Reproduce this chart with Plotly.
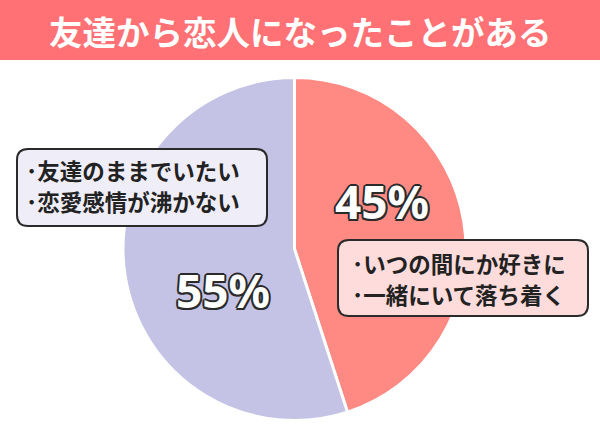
import plotly.graph_objects as go

W, H = 600, 437

title = "友達から恋人になったことがある"
labels = ["ある", "ない"]
values = [45, 55]
colors = ["#FE8A83", "#C4C3E5"]
notes_yes = ["･いつの間にか好きに", "･一緒にいて落ち着く"]
notes_no = ["･友達のままでいたい", "･恋愛感情が沸かない"]


def px(x):
    return x / W


def py(y):
    return 1 - y / H


def rrect(x0, y0, x1, y1, r):
    rx, ry = r / W, r / H
    X0, X1 = px(x0), px(x1)
    Y0, Y1 = py(y0), py(y1)  # Y0 top, Y1 bottom
    return (f"M {X0+rx} {Y0} L {X1-rx} {Y0} Q {X1} {Y0} {X1} {Y0-ry} "
            f"L {X1} {Y1+ry} Q {X1} {Y1} {X1-rx} {Y1} "
            f"L {X0+rx} {Y1} Q {X0} {Y1} {X0} {Y1+ry} "
            f"L {X0} {Y0-ry} Q {X0} {Y0} {X0+rx} {Y0} Z")


cx, cy, R = 294.5, 249, 171.5

fig = go.Figure(go.Pie(
    labels=labels, values=values, sort=False, direction="clockwise",
    rotation=0, marker=dict(colors=colors, line=dict(color="white", width=3)),
    textinfo="none", hoverinfo="label+percent", showlegend=False,
    domain=dict(x=[px(cx - R), px(cx + R)], y=[py(cy + R), py(cy - R)]),
))

shapes = [
    dict(type="rect", xref="paper", yref="paper", x0=0, x1=1, y0=py(60), y1=1,
         fillcolor="#FF7174", line=dict(width=0), layer="below"),
    dict(type="path", xref="paper", yref="paper", path=rrect(17, 149, 267, 226, 11),
         fillcolor="#EEEDF8", line=dict(color="#2A2A2A", width=2)),
    dict(type="path", xref="paper", yref="paper", path=rrect(338, 240, 588, 316, 11),
         fillcolor="#FFDCDC", line=dict(color="#2A2A2A", width=2)),
]

outline = ("2px 0 0 #2a2a2a, -2px 0 0 #2a2a2a, 0 2px 0 #2a2a2a, 0 -2px 0 #2a2a2a, "
           "1.5px 1.5px 0 #2a2a2a, -1.5px -1.5px 0 #2a2a2a, 1.5px -1.5px 0 #2a2a2a, "
           "-1.5px 1.5px 0 #2a2a2a")

annotations = [
    dict(text=f"<b>{title}</b>", x=0.5, y=py(30), xref="paper", yref="paper",
         showarrow=False, font=dict(family="Noto Sans CJK JP", size=33.5, color="white"),
         xanchor="center", yanchor="middle"),
    dict(text=f"<b>{values[0]}%</b>", x=px(382), y=py(201), xref="paper", yref="paper",
         showarrow=False, font=dict(family="Noto Sans", size=46, color="white", shadow=outline),
         xanchor="center", yanchor="middle"),
    dict(text=f"<b>{values[1]}%</b>", x=px(223), y=py(290), xref="paper", yref="paper",
         showarrow=False, font=dict(family="Noto Sans", size=46, color="white", shadow=outline),
         xanchor="center", yanchor="middle"),
]

for i, t in enumerate(notes_no):
    annotations.append(dict(text=f"<b>{t}</b>", x=px(24), y=py(170 + 31 * i),
                            xref="paper", yref="paper", showarrow=False,
                            font=dict(family="Noto Sans CJK JP", size=22.5, color="#222222"),
                            xanchor="left", yanchor="middle"))
for i, t in enumerate(notes_yes):
    annotations.append(dict(text=f"<b>{t}</b>", x=px(350), y=py(263 + 31 * i),
                            xref="paper", yref="paper", showarrow=False,
                            font=dict(family="Noto Sans CJK JP", size=22.5, color="#222222"),
                            xanchor="left", yanchor="middle"))

fig.update_layout(
    width=W, height=H, margin=dict(l=0, r=0, t=0, b=0),
    paper_bgcolor="white", plot_bgcolor="white",
    shapes=shapes, annotations=annotations,
)

fig.write_html("out.html")
